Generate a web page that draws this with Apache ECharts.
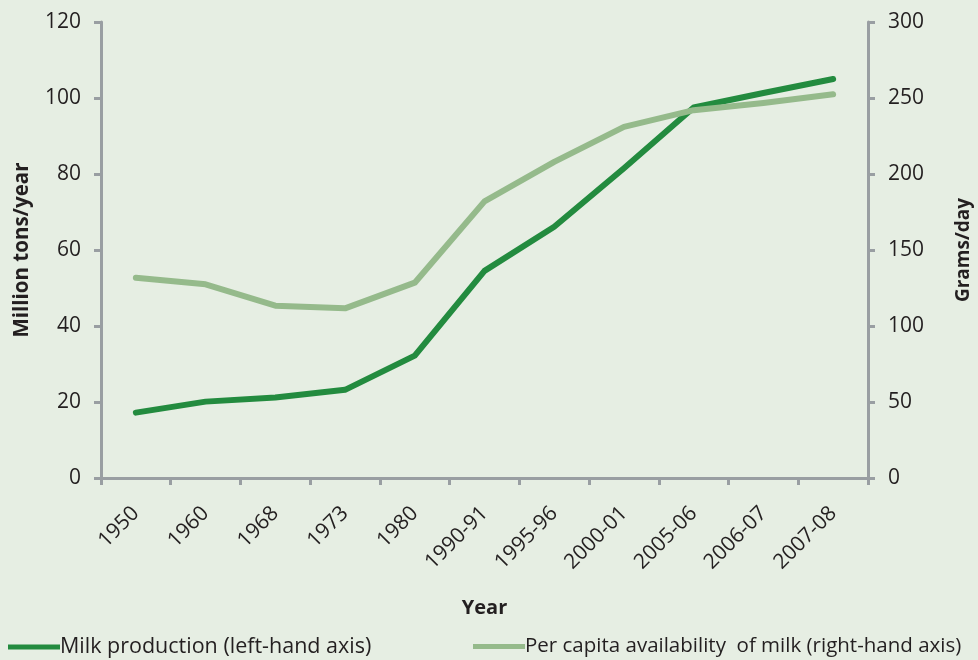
<!DOCTYPE html>
<html>
<head>
<meta charset="utf-8">
<script src="https://cdn.jsdelivr.net/npm/echarts@6/dist/echarts.min.js"></script>
<style>
html,body{margin:0;padding:0;background:#e6eee3;}
#c{width:978px;height:660px;}
</style>
</head>
<body>
<div id="c"></div>
<script>
var categories = ['1950','1960','1968','1973','1980','1990-91','1995-96','2000-01','2005-06','2006-07','2007-08'];
var milkProduction = [17.2, 20.1, 21.2, 23.2, 32.2, 54.5, 66.1, 81.5, 97.5, 101.3, 105];
var perCapita = [131.8, 127.4, 113.4, 111.6, 128.5, 182, 208, 231, 242, 246.7, 252.4];
var leftTicks = {min: 0, max: 120, interval: 20};
var rightTicks = {min: 0, max: 300, interval: 50};

var FONT = 'Open Sans';
var TXT = '#231f20';
var AX = '#999ea2';
var DARK = '#238b3f';
var LIGHT = '#95ba8b';

var chart = echarts.init(document.getElementById('c'));
chart.setOption({
  backgroundColor: '#e6eee3',
  textStyle: {fontFamily: FONT, color: TXT},
  grid: {left: 101, right: 110, top: 22, bottom: 182, containLabel: false, outerBoundsMode: 'none'},
  legend: [
    {left: 3, top: 631, icon: 'rect', itemWidth: 52, itemHeight: 5, itemGap: 0,
     textStyle: {fontFamily: FONT, fontSize: 21.5, color: TXT, padding: [0,0,0,-5]},
     data: ['Milk production (left-hand axis)']},
    {left: 468, top: 631, icon: 'rect', itemWidth: 52, itemHeight: 5, itemGap: 0,
     textStyle: {fontFamily: FONT, fontSize: 20.5, color: TXT, padding: [0,0,0,-5]},
     data: ['Per capita availability  of milk (right-hand axis)']}
  ],
  xAxis: {
    type: 'category', data: categories, boundaryGap: true,
    name: 'Year', nameLocation: 'middle', nameGap: 120,
    nameTextStyle: {fontFamily: FONT, fontSize: 20, fontWeight: 'bold', color: TXT},
    axisLine: {lineStyle: {color: AX, width: 3}},
    axisTick: {show: true, length: 7, lineStyle: {color: AX, width: 3}},
    axisLabel: {rotate: 45, fontSize: 21, color: TXT, fontFamily: FONT, margin: 32}
  },
  yAxis: [
    {type: 'value', position: 'left', min: leftTicks.min, max: leftTicks.max, interval: leftTicks.interval,
     name: 'Million tons/year', nameLocation: 'middle', nameGap: 68, nameRotate: 90,
     nameTextStyle: {fontFamily: FONT, fontSize: 20.5, fontWeight: 'bold', color: TXT},
     axisLine: {show: true, lineStyle: {color: AX, width: 3}},
     axisTick: {show: true, length: 7, lineStyle: {color: AX, width: 3}},
     splitLine: {show: false},
     axisLabel: {fontSize: 21, color: TXT, fontFamily: FONT, margin: 20}},
    {type: 'value', position: 'right', min: rightTicks.min, max: rightTicks.max, interval: rightTicks.interval,
     name: 'Grams/day', nameLocation: 'middle', nameGap: 86, nameRotate: 90,
     nameTextStyle: {fontFamily: FONT, fontSize: 19, fontWeight: 'bold', color: TXT},
     axisLine: {show: true, lineStyle: {color: AX, width: 3}},
     axisTick: {show: true, length: 7, lineStyle: {color: AX, width: 3}},
     splitLine: {show: false},
     axisLabel: {fontSize: 21, color: TXT, fontFamily: FONT, margin: 20}}
  ],
  series: [
    {name: 'Milk production (left-hand axis)', type: 'line', yAxisIndex: 0, data: milkProduction,
     showSymbol: false, symbol: 'none', color: DARK,
     lineStyle: {color: DARK, width: 6, cap: 'round', join: 'round'}, z: 3},
    {name: 'Per capita availability  of milk (right-hand axis)', type: 'line', yAxisIndex: 1, data: perCapita,
     showSymbol: false, symbol: 'none', color: LIGHT,
     lineStyle: {color: LIGHT, width: 6, cap: 'round', join: 'round'}, z: 4}
  ],
  animation: false
});
</script>
</body>
</html>
